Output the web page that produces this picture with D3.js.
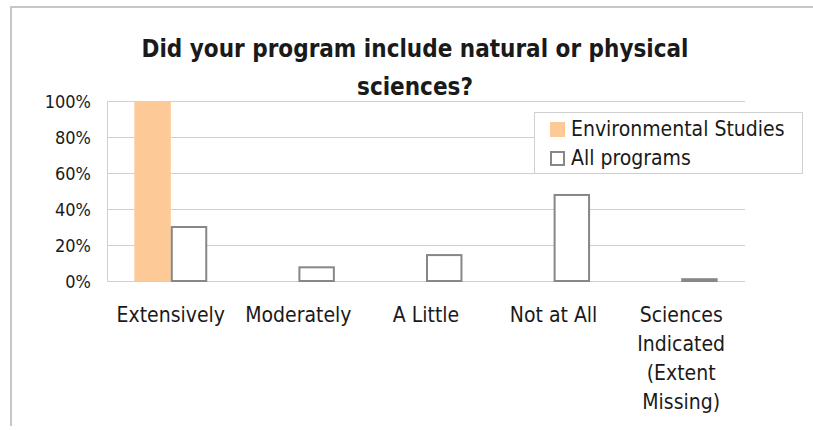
<!DOCTYPE html>
<html>
<head>
<meta charset="utf-8">
<script src="https://cdn.jsdelivr.net/npm/d3@7"></script>
<style>
  body { margin: 0; background: #fff; }
  svg text { fill: #1a1a1a; }
</style>
</head>
<body>
<div id="ChartDiv"></div>
<script>
const categories = ["Extensively", "Moderately", "A Little", "Not at All", "Sciences Indicated (Extent Missing)"];
const series = ["Environmental Studies", "All programs"];
const envStudies = [1.00, 0, 0, 0, 0];
const allPrograms = [0.30, 0.076, 0.144, 0.478, 0.01];
const yTicks = [0, 0.2, 0.4, 0.6, 0.8, 1.0];
const titleLines = ["Did your program include natural or physical", "sciences?"];

const colors = {
    "Environmental Studies": {fill: "#fdc997", stroke: "none"},
    "All programs": {fill: "#fff", stroke: "#878787"}
};

const labelFont = "'DejaVu Sans Condensed', 'DejaVu Sans', sans-serif";

function createChart() {
    const width = 813, height = 430;
    const margin = {top: 101, right: 68, bottom: 149, left: 107};

    const svgEl = d3.select("#ChartDiv")
        .append("svg")
        .attr("width", width)
        .attr("height", height);

    // outer chart border (only top and left visible)
    svgEl.append("path")
        .attr("d", `M11,426 L11,7 L813,7`)
        .attr("fill", "none")
        .attr("stroke", "#c6c6c6")
        .attr("stroke-width", 2);

    const x = d3.scaleBand()
        .domain(categories)
        .range([margin.left, width - margin.right]);

    const x1 = d3.scaleBand()
        .domain(series)
        .range([0, x.bandwidth()])
        .paddingOuter(0.75);

    const y = d3.scaleLinear()
        .domain([0, 1])
        .range([height - margin.bottom, margin.top]);

    // gridlines
    svgEl.append("g")
        .selectAll("line")
        .data(yTicks)
        .join("line")
        .attr("x1", margin.left)
        .attr("x2", width - margin.right)
        .attr("y1", d => y(d) + 0.5)
        .attr("y2", d => y(d) + 0.5)
        .attr("stroke", "#d0d0d0")
        .attr("stroke-width", 1);

    // y axis line
    svgEl.append("line")
        .attr("x1", margin.left + 0.5)
        .attr("x2", margin.left + 0.5)
        .attr("y1", y(1))
        .attr("y2", y(0))
        .attr("stroke", "#d0d0d0");

    // y tick labels
    svgEl.append("g")
        .selectAll("text")
        .data(yTicks)
        .join("text")
        .attr("x", 91)
        .attr("y", d => y(d) + 7)
        .attr("text-anchor", "end")
        .style("font-family", labelFont)
        .style("font-size", "18px")
        .text(d3.format(".0%"));

    const rows = categories.map((c, i) => ({
        cat: c,
        values: [
            {key: series[0], value: envStudies[i]},
            {key: series[1], value: allPrograms[i]}
        ]
    }));

    const groups = svgEl.append("g")
        .selectAll("g")
        .data(rows)
        .join("g")
        .attr("transform", d => `translate(${x(d.cat)},0)`);

    groups.selectAll("rect")
        .data(d => d.values.filter(v => v.value > 0))
        .join("rect")
        .attr("x", d => x1(d.key) + (d.key === series[1] ? 1 : 0))
        .attr("width", d => x1.bandwidth() - (d.key === series[1] ? 2 : 0))
        .attr("y", d => y(d.value))
        .attr("height", d => y(0) - y(d.value))
        .attr("fill", d => colors[d.key].fill)
        .attr("stroke", d => colors[d.key].stroke)
        .attr("stroke-width", 2);

    // category labels (wrapped)
    const catLabels = svgEl.append("g")
        .selectAll("text")
        .data(categories)
        .join("text")
        .attr("x", d => x(d) + x.bandwidth() / 2)
        .attr("y", 322)
        .attr("text-anchor", "middle")
        .style("font-family", labelFont)
        .style("font-size", "21px");

    catLabels.each(function(d) {
        const words = d.split(" ");
        const el = d3.select(this);
        let lines = [], line = [];
        const probe = el.append("tspan");
        words.forEach(w => {
            const test = line.concat([w]).join(" ");
            probe.text(test);
            if (line.length && probe.node().getComputedTextLength() > 115) {
                lines.push(line.join(" "));
                line = [w];
            } else {
                line.push(w);
            }
        });
        lines.push(line.join(" "));
        probe.remove();
        lines.forEach((l, i) => {
            el.append("tspan")
                .attr("x", x(d) + x.bandwidth() / 2)
                .attr("dy", i === 0 ? 0 : 29)
                .text(l);
        });
    });

    // title
    svgEl.append("g")
        .selectAll("text")
        .data(titleLines)
        .join("text")
        .attr("x", 415)
        .attr("y", (d, i) => 57 + i * 38)
        .attr("text-anchor", "middle")
        .style("font-family", labelFont)
        .style("font-weight", "bold")
        .style("font-size", "24px")
        .text(d => d);

    // legend
    const legend = svgEl.append("g");
    legend.append("rect")
        .attr("x", 534.5)
        .attr("y", 112.5)
        .attr("width", 268)
        .attr("height", 61)
        .attr("fill", "#fff")
        .attr("stroke", "#d0d0d0");

    const items = legend.selectAll("g")
        .data(series)
        .join("g")
        .attr("transform", (d, i) => `translate(550,${122 + i * 29})`);

    items.append("rect")
        .attr("x", d => d === series[1] ? 1 : 0)
        .attr("y", d => d === series[1] ? 1 : 0)
        .attr("width", d => d === series[1] ? 13 : 15)
        .attr("height", d => d === series[1] ? 13 : 15)
        .attr("fill", d => colors[d].fill)
        .attr("stroke", d => colors[d].stroke)
        .attr("stroke-width", 2);

    items.append("text")
        .attr("x", 21)
        .attr("y", 14)
        .style("font-family", labelFont)
        .style("font-size", "21px")
        .text(d => d);
}

createChart();
</script>
</body>
</html>
